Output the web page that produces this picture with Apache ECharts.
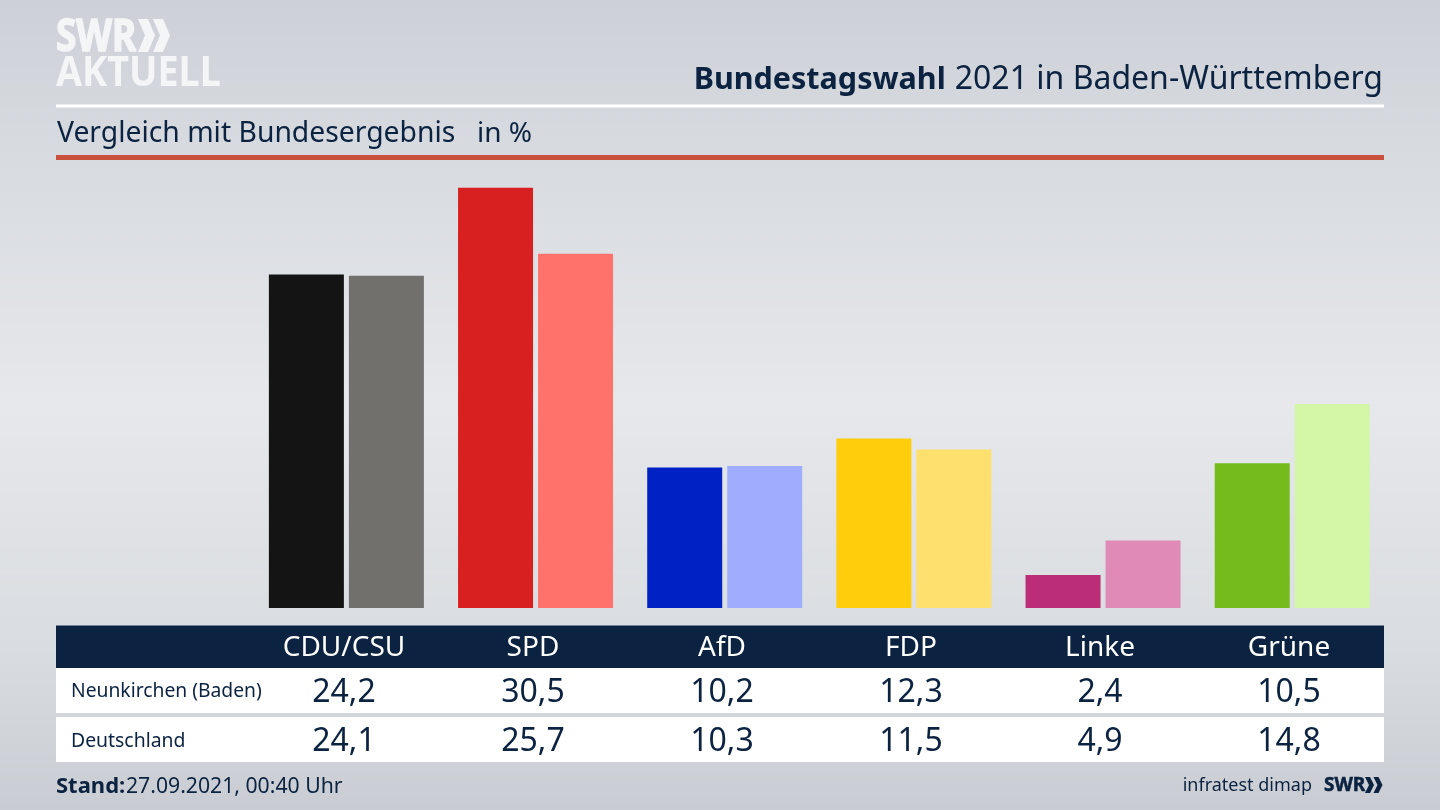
<!DOCTYPE html>
<html>
<head>
<meta charset="utf-8">
<style>html,body{margin:0;padding:0;width:1440px;height:810px;overflow:hidden}#c{width:1440px;height:810px}</style>
<script src="https://cdn.jsdelivr.net/npm/echarts@6/dist/echarts.min.js"></script>
</head>
<body>
<div id="c"></div>
<script>
const categories = ['CDU/CSU','SPD','AfD','FDP','Linke','Grüne'];
const neunkirchen = [24.2,30.5,10.2,12.3,2.4,10.5];
const deutschland = [24.1,25.7,10.3,11.5,4.9,14.8];
const rowNames = ['Neunkirchen (Baden)','Deutschland'];
const darkColors = ['#141414','#d7201f','#0022c4','#ffcd0b','#bb2d76','#76bb1c'];
const lightColors = ['#72706d','#ff726c','#9fadff','#fee06e','#e08ab8','#d3f7a6'];
const FONT = '"Noto Sans"';
const NAVY = '#0b2240';
const fmt = v => v.toFixed(1).replace('.',',');

function chevron(x,y,h,w,t,fill){
  return {type:'polygon',z:5,shape:{points:[[x,y],[x+t,y],[x+t+w,y+h/2],[x+t,y+h],[x,y+h],[x+w,y+h/2]]},style:{fill:fill||'#f4f5f7'}};
}
function rect(x,y,w,h,fill){return {type:'rect',z:-1,silent:true,shape:{x,y,width:w,height:h},style:{fill}};}
function text(x,y,str,size,opts,el){
  return Object.assign({type:'text',z:5,x,y,style:Object.assign({text:str,font:`${size}px ${FONT}`,fill:NAVY,textAlign:'left',textVerticalAlign:'middle'},opts||{})},el||{});
}

function valueAxis(values,offset){
  return {type:'category',gridIndex:1,position:'bottom',offset,data:values.map(fmt),
    axisLine:{show:false},axisTick:{show:false},
    axisLabel:{interval:0,color:NAVY,fontFamily:FONT,fontSize:32,margin:0,verticalAlign:'middle',lineHeight:36}};
}

const chart = echarts.init(document.getElementById('c'),null,{renderer:'canvas'});
chart.setOption({
  animation:false,
  backgroundColor:{type:'linear',x:0,y:0,x2:0,y2:1,colorStops:[
    {offset:0,color:'#cdd1d7'},{offset:0.2,color:'#d8dbe0'},{offset:0.5,color:'#e6e8eb'},{offset:0.8,color:'#d9dce0'},{offset:1,color:'#c9cdd3'}]},
  grid:[
    {left:251.8,top:167,width:1135,height:441},
    {left:249.5,top:167,width:1134,height:441}
  ],
  xAxis:[
    {type:'category',gridIndex:0,data:categories,show:false},
    {type:'category',gridIndex:1,position:'bottom',offset:0,data:categories,
      axisLine:{show:false},axisTick:{show:false},
      axisLabel:{interval:0,color:'#ffffff',fontFamily:FONT,fontSize:28,margin:40,verticalAlign:'middle',lineHeight:32}},
    valueAxis(neunkirchen,85),
    valueAxis(deutschland,134)
  ],
  yAxis:[
    {type:'value',gridIndex:0,min:0,max:32,show:false},
    {type:'value',gridIndex:1,min:0,max:32,show:false}
  ],
  series:[
    {type:'bar',name:rowNames[0],xAxisIndex:0,yAxisIndex:0,barWidth:75,barGap:'6.67%',
      data:neunkirchen.map((v,i)=>({value:v,itemStyle:{color:darkColors[i]}}))},
    {type:'bar',name:rowNames[1],xAxisIndex:0,yAxisIndex:0,barWidth:75,barGap:'6.67%',
      data:deutschland.map((v,i)=>({value:v,itemStyle:{color:lightColors[i]}}))}
  ],
  graphic:{elements:[
    rect(56,104.5,1328,3,'#ffffff'),
    rect(56,155,1328,5,'#c8503c'),
    rect(56,625.5,1328,42.5,NAVY),
    rect(56,668,1328,45,'#ffffff'),
    rect(56,717,1328,45,'#ffffff'),
    text(56,38,'SWR',44,{font:`700 44px ${FONT}`,fill:'#f4f5f7',stroke:'#f4f5f7',lineWidth:1.5},{scaleX:0.84}),
    chevron(138,19,33,7,10),chevron(153,19,33,7,10),
    text(56,74,'AKTUELL',41,{font:`700 41px ${FONT}`,fill:'#f4f5f7'},{scaleX:0.92}),
    {type:'text',z:5,x:1383,y:80,style:{rich:{b:{fontWeight:700,fontFamily:FONT,fontSize:30.5,fill:NAVY,padding:[0,9,0,0]},r:{fontFamily:FONT,fontSize:32,fill:NAVY}},text:'{b|Bundestagswahl}{r|2021 in Baden-Württemberg}',textAlign:'right',textVerticalAlign:'middle'}},
    text(57,134,'Vergleich mit Bundesergebnis',28.3),
    text(477,134,'in %',28),
    text(71,692,rowNames[0],19.3),
    text(71,741,rowNames[1],19.4),
    text(56,787,'Stand:',22,{font:`700 22px ${FONT}`}),
    text(126,787,'27.09.2021, 00:40 Uhr',21.2),
    text(1312,786,'infratest dimap',18,{textAlign:'right'}),
    chevron(1365,777,16,4,5,NAVY),chevron(1373.5,777,16,4,5,NAVY),
    text(1324,786,'SWR',19,{font:`700 19px ${FONT}`,stroke:NAVY,lineWidth:0.5})
  ]}
});
</script>
</body>
</html>
